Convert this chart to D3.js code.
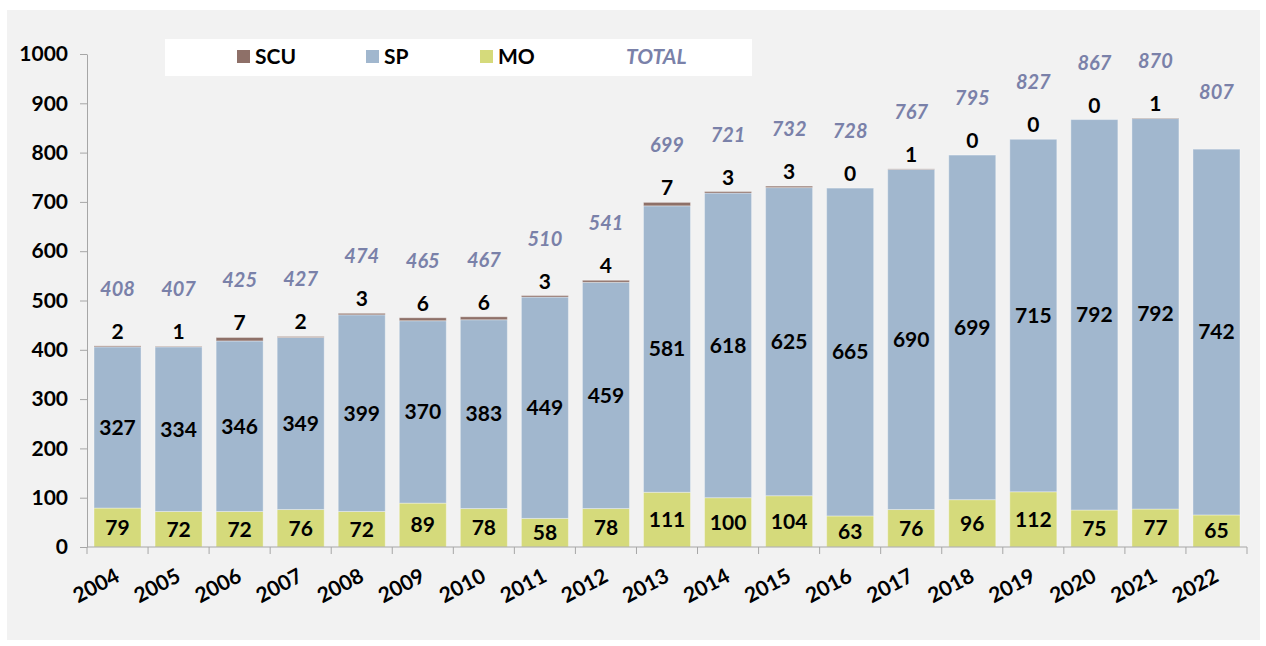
<!DOCTYPE html>
<html>
<head>
<meta charset="utf-8">
<script src="https://cdn.jsdelivr.net/npm/d3@7"></script>
<style>
  body { margin: 0; background: #fff; }
  text { font-family: Lato, "Open Sans", sans-serif; font-weight: 700; }
</style>
</head>
<body>
<svg id="chart" width="1266" height="646"></svg>
<script>
// data
var years = ['2004','2005','2006','2007','2008','2009','2010','2011','2012','2013','2014','2015','2016','2017','2018','2019','2020','2021','2022'];
var mo  = [79, 72, 72, 76, 72, 89, 78, 58, 78, 111, 100, 104, 63, 76, 96, 112, 75, 77, 65];
var sp  = [327, 334, 346, 349, 399, 370, 383, 449, 459, 581, 618, 625, 665, 690, 699, 715, 792, 792, 742];
var scu = [2, 1, 7, 2, 3, 6, 6, 3, 4, 7, 3, 3, 0, 1, 0, 0, 0, 1, null];
var yTicks = [0, 100, 200, 300, 400, 500, 600, 700, 800, 900, 1000];

var colors = { SCU: '#8e7068', SP: '#a1b7ce', MO: '#d5da7b', TOTAL: '#7a81a9' };

var svg = d3.select('#chart');

// grey chart background
svg.append('rect')
  .attr('x', 7).attr('y', 10)
  .attr('width', 1253).attr('height', 630)
  .attr('fill', '#f2f2f2');

var x = d3.scaleBand()
  .domain(years)
  .range([87, 1247])
  .paddingInner(0.23)
  .paddingOuter(0.115);

var y = d3.scaleLinear()
  .domain([0, 1000])
  .range([547, 54]);

// rows for stacking
var rows = years.map(function(yr, i) {
  return { year: yr, MO: mo[i], SP: sp[i], SCU: scu[i] || 0, scuLabel: scu[i],
           total: mo[i] + sp[i] + (scu[i] || 0) };
});

var stack = d3.stack().keys(['MO', 'SP', 'SCU'])(rows);

svg.append('g').selectAll('g')
  .data(stack)
  .join('g')
    .attr('fill', function(s) { return colors[s.key]; })
  .selectAll('rect')
  .data(function(s) { return s; })
  .join('rect')
    .attr('x', function(d) { return x(d.data.year); })
    .attr('width', x.bandwidth())
    .attr('y', function(d) { return y(d[1]); })
    .attr('height', function(d) { return Math.max(0, y(d[0]) - y(d[1])); })
    .attr('stroke', 'rgba(255,255,255,0.35)')
    .attr('stroke-width', 1);

// axes
var yAxis = d3.axisLeft(y).tickValues(yTicks).tickFormat(d3.format('d'))
  .tickSize(7).tickSizeOuter(0).tickPadding(12);
var gy = svg.append('g').attr('transform', 'translate(87,0)').call(yAxis);
gy.select('.domain').attr('stroke', '#a6a6a6');
gy.selectAll('.tick line').attr('stroke', '#a6a6a6');
gy.selectAll('.tick text').attr('font-size', 21).attr('fill', '#000');

var gx = svg.append('g').attr('transform', 'translate(0,547)');
gx.append('line')
  .attr('x1', 87).attr('x2', 1247)
  .attr('stroke', '#a6a6a6');
var bounds = years.map(function(yr) { return x(yr) - x.step() * x.paddingInner() / 2; });
bounds.push(1247);
gx.selectAll('line.tk')
  .data(bounds)
  .join('line')
    .attr('class', 'tk')
    .attr('x1', function(d) { return d; }).attr('x2', function(d) { return d; })
    .attr('y1', 0).attr('y2', 7)
    .attr('stroke', '#a6a6a6');
gx.selectAll('text')
  .data(years)
  .join('text')
    .attr('transform', function(d) {
      return 'translate(' + (x(d) + x.bandwidth() / 2) + ',27) rotate(-28)';
    })
    .attr('text-anchor', 'end')
    .attr('dy', '0.35em')
    .attr('font-size', 21)
    .text(function(d) { return d; });

// segment labels
var labels = svg.append('g').attr('text-anchor', 'middle').attr('font-size', 21);
labels.selectAll('text.mo')
  .data(rows)
  .join('text')
    .attr('class', 'mo')
    .attr('x', function(d) { return x(d.year) + x.bandwidth() / 2; })
    .attr('y', function(d) { return y(d.MO / 2); })
    .attr('dy', '0.35em')
    .text(function(d) { return d.MO; });
labels.selectAll('text.sp')
  .data(rows)
  .join('text')
    .attr('class', 'sp')
    .attr('x', function(d) { return x(d.year) + x.bandwidth() / 2; })
    .attr('y', function(d) { return y(d.MO + d.SP / 2); })
    .attr('dy', '0.35em')
    .text(function(d) { return d.SP; });
labels.selectAll('text.scu')
  .data(rows.filter(function(d) { return d.scuLabel != null; }))
  .join('text')
    .attr('class', 'scu')
    .attr('x', function(d) { return x(d.year) + x.bandwidth() / 2; })
    .attr('y', function(d) { return y(d.total) - 7; })
    .text(function(d) { return d.scuLabel; });
labels.selectAll('text.tot')
  .data(rows)
  .join('text')
    .attr('class', 'tot')
    .attr('x', function(d) { return x(d.year) + x.bandwidth() / 2; })
    .attr('y', function(d) { return y(d.total) - 50; })
    .attr('font-style', 'italic')
    .attr('font-size', 20)
    .attr('fill', colors.TOTAL)
    .text(function(d) { return d.total; });

// legend
var legend = svg.append('g');
legend.append('rect')
  .attr('x', 165).attr('y', 39)
  .attr('width', 587).attr('height', 37)
  .attr('fill', '#fff');
var legItems = [
  { key: 'SCU', x: 237 },
  { key: 'SP', x: 366 },
  { key: 'MO', x: 480 }
];
legItems.forEach(function(it) {
  legend.append('rect')
    .attr('x', it.x).attr('y', 50)
    .attr('width', 13).attr('height', 13)
    .attr('fill', colors[it.key]);
  legend.append('text')
    .attr('x', it.x + 18).attr('y', 57)
    .attr('dy', '0.35em')
    .attr('font-size', 21)
    .text(it.key);
});
legend.append('text')
  .attr('x', 626).attr('y', 57)
  .attr('dy', '0.35em')
  .attr('font-size', 21)
  .attr('font-style', 'italic')
  .attr('fill', colors.TOTAL)
  .text('TOTAL');
</script>
</body>
</html>
